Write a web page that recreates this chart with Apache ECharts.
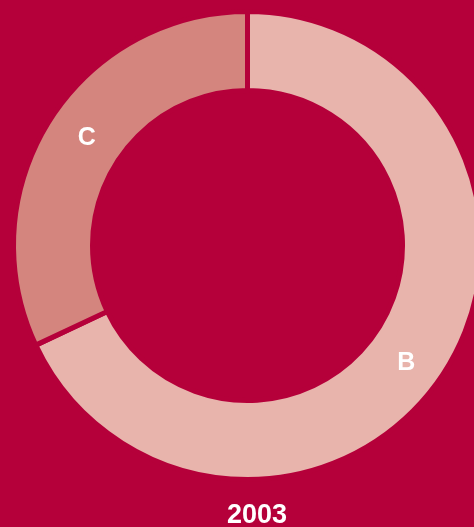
<!DOCTYPE html>
<html>
<head>
<meta charset="utf-8">
<script src="https://cdn.jsdelivr.net/npm/echarts@6/dist/echarts.min.js"></script>
<style>
html,body{margin:0;padding:0;background:#b5003a;}
#chart{width:474px;height:527px;}
</style>
</head>
<body>
<div id="chart"></div>
<script>
const categories = ['B', 'C'];
const values = [68, 32];
const title = '2003';
const sliceColors = ['#e8b4ac', '#d4857e'];
const labelOffsets = [[-8, 12], [6, -2]];

const chart = echarts.init(document.getElementById('chart'));
chart.setOption({
  backgroundColor: '#b5003a',
  animation: false,
  title: {
    text: title,
    left: 222,
    top: 497,
    textStyle: {color: '#ffffff', fontSize: 27, fontWeight: 'bold', fontFamily: 'Liberation Sans, Arial, sans-serif'}
  },
  series: [{
    type: 'pie',
    center: [247.5, 245.5],
    radius: [155, 234],
    startAngle: 90,
    clockwise: true,
    itemStyle: {borderColor: '#b5003a', borderWidth: 5},
    label: {
      show: true,
      position: 'inside',
      color: '#ffffff',
      fontSize: 25,
      fontWeight: 'bold',
      fontFamily: 'Liberation Sans, Arial, sans-serif',
      formatter: '{b}'
    },
    labelLine: {show: false},
    emphasis: {disabled: true},
    data: categories.map((c, i) => ({
      name: c,
      value: values[i],
      itemStyle: {color: sliceColors[i]},
      label: {offset: labelOffsets[i]}
    }))
  }]
});
</script>
</body>
</html>
